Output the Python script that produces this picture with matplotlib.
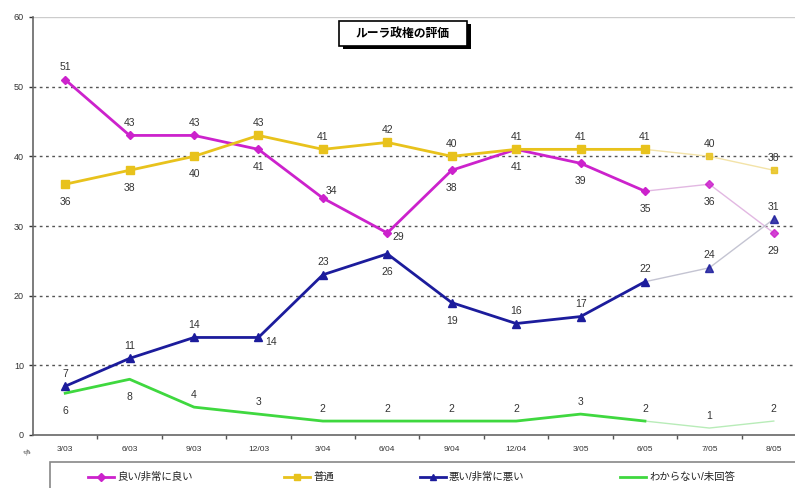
import matplotlib
matplotlib.use("Agg")
import matplotlib.pyplot as plt
from matplotlib.lines import Line2D
from matplotlib.patches import Rectangle

plt.rcParams['font.family'] = ['Liberation Sans', 'Noto Sans CJK JP', 'DejaVu Sans']

periods = ["3/03", "6/03", "9/03", "12/03", "3/04", "6/04", "9/04", "12/04",
           "3/05", "6/05", "7/05", "8/05"]
good = [51, 43, 43, 41, 34, 29, 38, 41, 39, 35, 36, 29]
neutral = [36, 38, 40, 43, 41, 42, 40, 41, 41, 41, 40, 38]
bad = [7, 11, 14, 14, 23, 26, 19, 16, 17, 22, 24, 31]
unknown = [6, 8, 4, 3, 2, 2, 2, 2, 3, 2, 1, 2]

series_names = ["良い/非常に良い", "普通", "悪い/非常に悪い", "わからない/未回答"]
title_text = "ルーラ政権の評価"

# label placement per point: (dx, dy) in points
good_off = [(0, 9), (0, 9), (0, 9), (0, -13), (6, 5), (8, -3), (0, -13), (0, -13),
            (0, -13), (0, -13), (0, -13), (0, -13)]
neutral_off = [(0, -13), (0, -13), (0, -13), (0, 9), (0, 9), (0, 9), (0, 9), (0, 9),
               (0, 9), (0, 9), (0, 9), (0, 9)]
bad_off = [(0, 9), (0, 9), (0, 9), (9, -3), (0, 9), (0, -13), (0, -13), (0, 9),
           (0, 9), (0, 9), (0, 9), (0, 9)]
unknown_off = [(0, -13), (0, -13), (0, 9), (0, 9), (0, 9), (0, 9), (0, 9), (0, 9),
               (0, 9), (0, 9), (0, 9), (0, 9)]

W, H = 795, 488
fig = plt.figure(figsize=(W / 100, H / 100), dpi=100)
ax = fig.add_axes([33 / W, 1 - 435 / H, 773 / W, 418 / H])

x = list(range(len(periods)))
solid_end = 9  # solid lines up to 6/05, thin faded lines afterwards

styles = [
    (good, "#CC22CC", "#E2B8E2", "D", 4.5, good_off),
    (neutral, "#E8C21C", "#F3E3A8", "s", 5.5, neutral_off),
    (bad, "#1C1C9C", "#C4C4D2", "^", 6, bad_off),
    (unknown, "#3FD83F", "#B8ECB8", None, 0, unknown_off),
]

for vals, col, pale, mk, ms, offs in styles:
    ax.plot(x[:solid_end + 1], vals[:solid_end + 1], color=col, lw=2.0,
            marker=mk, ms=ms, zorder=3)
    ax.plot(x[solid_end:], vals[solid_end:], color=pale, lw=1.0, zorder=2)
    if mk is not None:
        ax.plot(x[solid_end + 1:], vals[solid_end + 1:], ls="none", marker=mk,
                ms=ms * 0.9, color=col, alpha=0.85, zorder=3)
    for xi, v, (dx, dy) in zip(x, vals, offs):
        ax.annotate(str(v), (xi, v), xytext=(dx, dy), textcoords="offset points",
                    ha="center", va="center", fontsize=7.5, color="#333333")

ax.set_xlim(-0.5, len(periods) - 0.5)
ax.set_ylim(0, 60)
ax.set_yticks(range(0, 61, 10))
ax.set_xticks(x)
ax.set_xticklabels(periods, fontsize=6, color="#333333")
ax.tick_params(axis="y", labelsize=6.5, colors="#333333", length=3, width=1)
ax.tick_params(axis="x", length=0, pad=8)
# minor ticks between categories
ax.set_xticks([i + 0.5 for i in x[:-1]], minor=True)
ax.tick_params(axis="x", which="minor", length=3, width=1, color="#555555", direction="out")

for yv in range(10, 60, 10):
    ax.axhline(yv, color="#555555", lw=1.0, ls=(0, (2, 2.5)), zorder=1)
ax.axhline(60, color="#CCCCCC", lw=1.0, zorder=1)

for side in ["top", "right"]:
    ax.spines[side].set_visible(False)
ax.spines["left"].set_color("#666666")
ax.spines["bottom"].set_color("#666666")
ax.spines["left"].set_linewidth(1.2)
ax.spines["bottom"].set_linewidth(1.2)

# chart title in a shadowed box
fig.patches.append(Rectangle((343 / W, 1 - 49 / H), 128 / W, 25 / H,
                             transform=fig.transFigure, fc="black", ec="none"))
fig.patches.append(Rectangle((339 / W, 1 - 46 / H), 128 / W, 25 / H,
                             transform=fig.transFigure, fc="white", ec="black", lw=1.2))
fig.text(403 / W, 1 - 34 / H, title_text, ha="center", va="center",
         fontsize=8.5, fontweight="bold", color="black")

fig.text(28 / W, 1 - 453 / H, "%", fontsize=5, color="#222222",
         ha="center", va="center", rotation=30)

# legend box along the bottom edge
fig.patches.append(Rectangle((50 / W, -10 / H), 750 / W, 36 / H,
                             transform=fig.transFigure, fc="white",
                             ec="#888888", lw=1.2))
legend_x = [88, 284, 420, 620]
for (vals, col, pale, mk, ms, offs), name, lx in zip(styles, series_names, legend_x):
    yy = 1 - 477 / H
    fig.add_artist(Line2D([lx / W, (lx + 26) / W], [yy, yy], color=col, lw=2.0,
                          transform=fig.transFigure))
    if mk is not None:
        fig.add_artist(Line2D([(lx + 13) / W], [yy], color=col, marker=mk,
                              ms=ms * 0.8, transform=fig.transFigure))
    fig.text((lx + 29) / W, yy, name, fontsize=7.5, color="#222222",
             ha="left", va="center")

fig.savefig("out.png", dpi=100)
